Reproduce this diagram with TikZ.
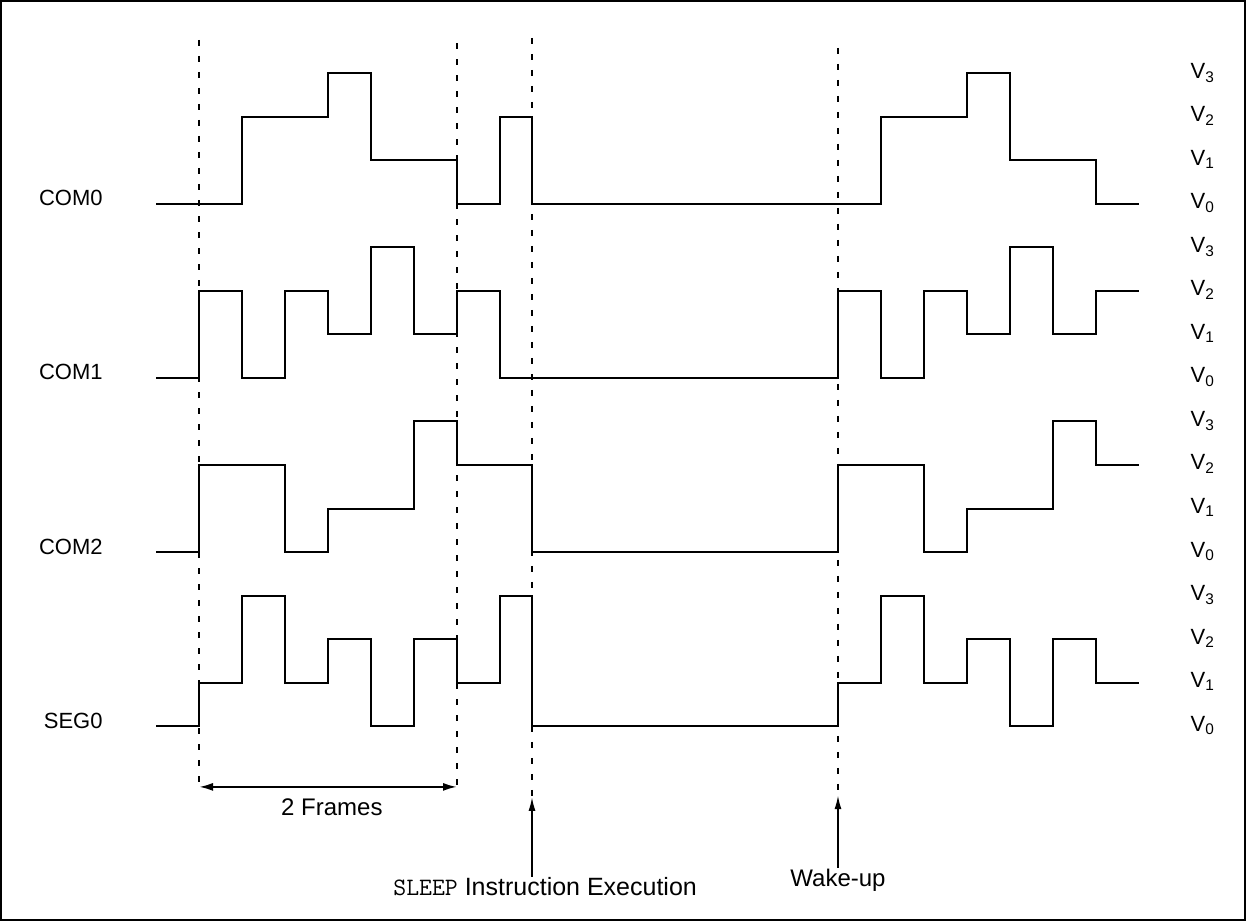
\documentclass[tikz,border=0pt]{standalone}
\usepackage{fontspec}
\setmainfont{Liberation Sans}
\usetikzlibrary{arrows.meta}

\begin{document}
\begin{tikzpicture}[x=43pt,y=43.5pt]
        \tikzset{
            wave/.style={black, line width=2pt},
            guide/.style={black, line width=2pt, dash pattern=on 6pt off 10pt},
            sig/.style={font=\fontsize{22}{26}\selectfont, anchor=base east, yshift=-2pt},
            lvl/.style={font=\fontsize{22}{26}\selectfont, anchor=base west, yshift=-5pt},
            txt/.style={font=\fontsize{24}{28}\selectfont, inner sep=1pt}
        }
        \def\wk{14.86}
        \useasboundingbox (-199pt,-195pt) rectangle (1047pt,726pt);
        \draw[black, line width=2pt] (-198pt,-194pt) rectangle (1046pt,725pt);

        \foreach \x/\t/\b in {0/15.77/-1.49, 6/15.70/-1.49, 7.744/15.82/-1.63, \wk/15.59/-1.59} { %LINHAS TRACEJADAS
            \draw[guide] (\x,\t) -- (\x,\b);
        }

        % COM0
        \draw[wave] (-1,12) -- (1,12) -- (1,14) -- (3,14) -- (3,15) -- (4,15) -- (4,13) -- (6,13) -- (6,12) -- (7,12) -- (7,14) -- (7.744,14) -- (7.744,12)
            -- (\wk+1,12) -- (\wk+1,14) -- (\wk+3,14) -- (\wk+3,15) -- (\wk+4,15) -- (\wk+4,13) -- (\wk+6,13) -- (\wk+6,12) -- (\wk+7,12);
        % COM1
        \draw[wave] (-1,8) -- (0,8) -- (0,10) -- (1,10) -- (1,8) -- (2,8) -- (2,10) -- (3,10) -- (3,9) -- (4,9) -- (4,11) -- (5,11) -- (5,9) -- (6,9) -- (6,10) -- (7,10) -- (7,8)
            -- (\wk,8) -- (\wk,10) -- (\wk+1,10) -- (\wk+1,8) -- (\wk+2,8) -- (\wk+2,10) -- (\wk+3,10) -- (\wk+3,9) -- (\wk+4,9) -- (\wk+4,11) -- (\wk+5,11) -- (\wk+5,9) -- (\wk+6,9) -- (\wk+6,10) -- (\wk+7,10);
        % COM2
        \draw[wave] (-1,4) -- (0,4) -- (0,6) -- (2,6) -- (2,4) -- (3,4) -- (3,5) -- (5,5) -- (5,7) -- (6,7) -- (6,6) -- (7.744,6) -- (7.744,4)
            -- (\wk,4) -- (\wk,6) -- (\wk+2,6) -- (\wk+2,4) -- (\wk+3,4) -- (\wk+3,5) -- (\wk+5,5) -- (\wk+5,7) -- (\wk+6,7) -- (\wk+6,6) -- (\wk+7,6);
        % SEG0
        \draw[wave] (-1,0) -- (0,0) -- (0,1) -- (1,1) -- (1,3) -- (2,3) -- (2,1) -- (3,1) -- (3,2) -- (4,2) -- (4,0) -- (5,0) -- (5,2) -- (6,2) -- (6,1) -- (7,1) -- (7,3) -- (7.744,3) -- (7.744,0)
            -- (\wk,0) -- (\wk,1) -- (\wk+1,1) -- (\wk+1,3) -- (\wk+2,3) -- (\wk+2,1) -- (\wk+3,1) -- (\wk+3,2) -- (\wk+4,2) -- (\wk+4,0) -- (\wk+5,0) -- (\wk+5,2) -- (\wk+6,2) -- (\wk+6,1) -- (\wk+7,1);

        \node[sig] (com0) at (-2.16,12) {COM0};
        \node[sig] (com1) at (-2.16,8) {COM1};
        \node[sig] (com2) at (-2.16,4) {COM2};
        \node[sig] (seg0) at (-2.16,0) {SEG0};

        \foreach \r in {0,4,8,12} { %NIVEIS V0..V3
            \foreach \v in {0,1,2,3} {
                \node[lvl] (v\r-\v) at (22.98,\r+\v) {V\textsubscript{\v}};
            }
        }

        \coordinate (fra) at (0,-1.40);
        \coordinate (frb) at (6,-1.40);
        \coordinate (sleeptip) at (7.744,-1.63);
        \coordinate (waketip) at (\wk,-1.59);

        \draw[black, line width=2pt, {Latex[length=14pt,width=8pt]}-{Latex[length=14pt,width=8pt]}] (fra) -- (frb);
        \node[txt] (frames) at (3.09,-1.86) {2 Frames};

        \node[txt, font=\fontsize{25}{29}\selectfont] (sleep) at (8.05,-3.70) {\texttt{SLEEP} Instruction Execution};
        \node[txt] (wake) at (\wk,-3.54) {Wake-up};
        \draw[black, line width=1.8pt, -{Latex[length=14pt,width=7pt]}] (sleep.north -| sleeptip) -- (sleeptip);
        \draw[black, line width=1.8pt, -{Latex[length=14pt,width=7pt]}] (wake.north) -- (waketip);

    \end{tikzpicture}
\end{document}
